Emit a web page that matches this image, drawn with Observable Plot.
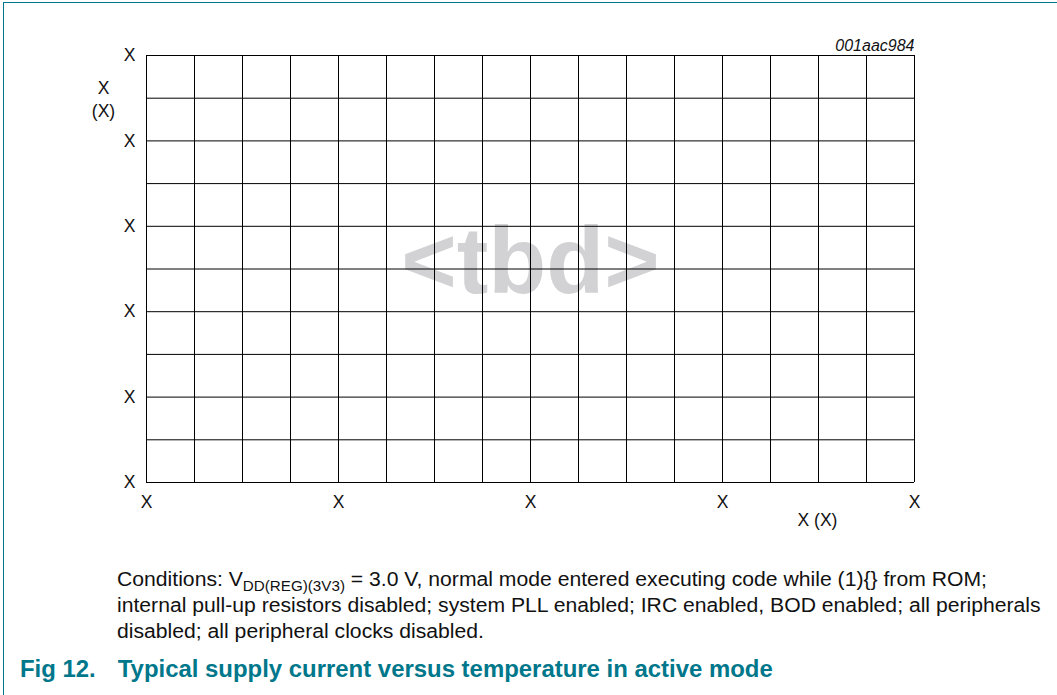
<!DOCTYPE html>
<html>
<head>
<meta charset="utf-8">
<script src="https://cdn.jsdelivr.net/npm/d3@7"></script>
<script src="https://cdn.jsdelivr.net/npm/@observablehq/plot@0.6"></script>
<style>
  html, body { margin: 0; padding: 0; background: #fff; }
  body { width: 1057px; height: 695px; position: relative; overflow: hidden; font-family: "Liberation Sans", Arial, sans-serif; }
  #frame { position: absolute; left: 3px; top: 2px; right: -20px; bottom: -20px; border-top: 1px solid #00778b; border-left: 1px solid #00778b; pointer-events: none; }
  #chart { position: absolute; left: 0; top: 0; }
  #caption { position: absolute; left: 117px; top: 566px; font-size: 19.5px; line-height: 26px; color: #111; white-space: nowrap; transform: scaleX(1.085); transform-origin: 0 0; }
  #caption sub { font-size: 14px; vertical-align: -5px; line-height: 0; }
  #title { position: absolute; left: 20px; top: 657px; font-size: 23px; line-height: 24px; font-weight: bold; color: #00778b; white-space: nowrap; transform: scaleX(1.04); transform-origin: 0 0; }
  #title .num { display: inline-block; width: 94px; }
</style>
</head>
<body>
<div id="frame"></div>
<div id="chart"></div>
<div id="caption"></div>
<div id="title"></div>
<script>
// ---- data (placeholder chart: grid only) ----
const xGrid = [0, 1, 2, 3, 4, 5, 6, 7, 8, 9, 10, 11, 12, 13, 14, 15, 16];
const yGrid = [0, 1, 2, 3, 4, 5, 6, 7, 8, 9, 10];
const xTicks = [0, 4, 8, 12, 16];
const yTicks = [0, 2, 4, 6, 8, 10];
const xTickLabels = ["X", "X", "X", "X", "X"];
const yTickLabels = ["X", "X", "X", "X", "X", "X"];
const xAxisLabel = "X (X)";
const yAxisLabel = "X\n(X)";
const codeLabel = "001aac984";
const watermark = "<tbd>";
const captionLines = [
  "Conditions: V<sub>DD(REG)(3V3)</sub> = 3.0 V, normal mode entered executing code while (1){} from ROM;",
  "internal pull-up resistors disabled; system PLL enabled; IRC enabled, BOD enabled; all peripherals",
  "disabled; all peripheral clocks disabled."
];
const figNumber = "Fig 12.";
const figTitle = "Typical supply current versus temperature in active mode";

const font = "Liberation Sans, Arial, sans-serif";

const chart = Plot.plot({
  width: 1057,
  height: 545,
  marginLeft: 146,
  marginRight: 143,
  marginTop: 55,
  marginBottom: 63,
  style: { fontFamily: font, fontSize: "17.5px", color: "#111", background: "transparent", overflow: "visible" },
  x: { domain: [0, 16], label: null },
  y: { domain: [0, 10], label: null },
  marks: [
    Plot.text([watermark], { frameAnchor: "middle", text: (d) => d, fontSize: 95, fontWeight: "bold", fill: "#d2d2d4", dy: -6 }),
    Plot.ruleX(xGrid, { x: (d) => d, stroke: "#000", strokeWidth: 1 }),
    Plot.ruleY(yGrid, { y: (d) => d, stroke: "#000", strokeWidth: 1 }),
    Plot.axisX({ ticks: xTicks, tickSize: 0, tickPadding: 13, tickFormat: (d) => xTickLabels[xTicks.indexOf(d)], fontSize: 17.5, label: null }),
    Plot.axisY({ ticks: yTicks, tickSize: 0, tickPadding: 11, tickFormat: (d) => yTickLabels[yTicks.indexOf(d)], fontSize: 17.5, label: null }),
    Plot.text([yAxisLabel], { frameAnchor: "top-left", text: (d) => d, dx: -43, dy: 22, textAnchor: "middle", lineAnchor: "top", lineHeight: 1.31, fontSize: 17.5 }),
    Plot.text([xAxisLabel], { frameAnchor: "bottom-right", text: (d) => d, dx: -97, dy: 31, textAnchor: "middle", lineAnchor: "top", fontSize: 17.5 }),
    Plot.text([codeLabel], { frameAnchor: "top-right", text: (d) => d, dy: -5, textAnchor: "end", lineAnchor: "bottom", fontSize: 16, fontStyle: "italic" })
  ]
});
document.getElementById("chart").appendChild(chart);
document.getElementById("caption").innerHTML = captionLines.map((l) => `<div>${l}</div>`).join("");
document.getElementById("title").innerHTML = `<span class="num">${figNumber}</span>${figTitle}`;
</script>
</body>
</html>
